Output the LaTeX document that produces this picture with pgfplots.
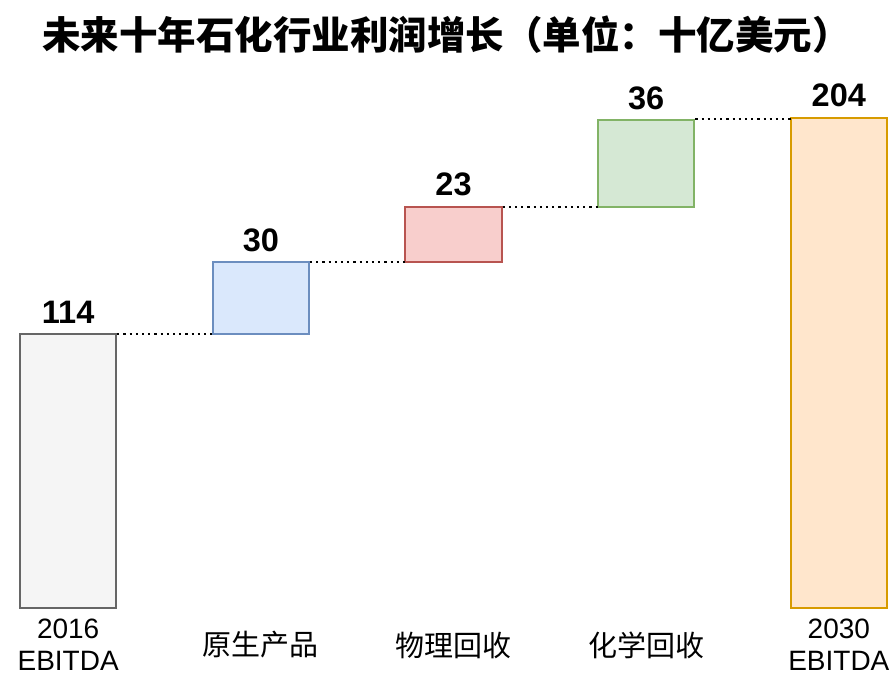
\documentclass[border=0pt]{standalone}
\usepackage{pgfplots}
\pgfplotsset{compat=1.18}
\usepackage{fontspec}
\setmainfont{Liberation Sans}
\newfontfamily\cjk{Noto Sans CJK SC}
\definecolor{gfill}{HTML}{F5F5F5}\definecolor{gdraw}{HTML}{666666}
\definecolor{bfill}{HTML}{DAE8FC}\definecolor{bdraw}{HTML}{6C8EBF}
\definecolor{rfill}{HTML}{F8CECC}\definecolor{rdraw}{HTML}{B85450}
\definecolor{vfill}{HTML}{D5E8D4}\definecolor{vdraw}{HTML}{82B366}
\definecolor{ofill}{HTML}{FFE6CC}\definecolor{odraw}{HTML}{D79B00}
\tikzset{
  wbar/.style={line width=2pt, line join=miter},
  conn/.style={black, line width=2.2pt, dash pattern=on 2.2pt off 4pt},
  val/.style={anchor=base, yshift=11pt, font=\fontsize{32.5}{36}\selectfont\bfseries},
}
\begin{document}
\begin{tikzpicture}
\useasboundingbox (-20pt,-84pt) rectangle (874pt,608pt);
\begin{axis}[
  scale only axis, width=867pt, height=490pt,
  xmin=-0.25, xmax=4.25, ymin=0, ymax=204,
  clip=false,
  axis line style={draw=none},
  tick style={draw=none},
  ytick=\empty,
  xtick={0,1,2,3,4},
  xticklabels={{2016\\EBITDA},{\cjk\fontsize{29}{32}\selectfont 原生产品},{\cjk\fontsize{29}{32}\selectfont 物理回收},{\cjk\fontsize{29}{32}\selectfont 化学回收},{2030\\EBITDA}},
  xticklabel style={anchor=center, yshift=-37pt, align=center, font=\fontsize{28}{32}\selectfont},
]
% bars (polygons in axis coordinates)
\addplot[wbar, draw=gdraw, fill=gfill] coordinates {(-0.25,0) (0.25,0) (0.25,114) (-0.25,114)} -- cycle;
\addplot[wbar, draw=bdraw, fill=bfill] coordinates {(0.75,114) (1.25,114) (1.25,144) (0.75,144)} -- cycle;
\addplot[wbar, draw=rdraw, fill=rfill] coordinates {(1.75,144) (2.25,144) (2.25,167) (1.75,167)} -- cycle;
\addplot[wbar, draw=vdraw, fill=vfill] coordinates {(2.75,167) (3.25,167) (3.25,203) (2.75,203)} -- cycle;
\addplot[wbar, draw=odraw, fill=ofill] coordinates {(3.75,0) (4.25,0) (4.25,204) (3.75,204)} -- cycle;
% connectors
\addplot[conn] coordinates {(0.255,114) (0.75,114)};
\addplot[conn] coordinates {(1.255,144) (1.75,144)};
\addplot[conn] coordinates {(2.255,167) (2.75,167)};
\addplot[conn] coordinates {(3.255,203.5) (3.75,203.5)};
% value labels
\node[val] at (axis cs:0,114) {114};
\node[val] at (axis cs:1,144) {30};
\node[val] at (axis cs:2,167) {23};
\node[val] at (axis cs:3,203) {36};
\node[val] at (axis cs:4,204) {204};
% title
\node[anchor=center, font=\cjk\bfseries\fontsize{38.5}{42}\selectfont] at ([xshift=-7pt, yshift=83pt]rel axis cs:0.5,1) {未来十年石化行业利润增长（单位：十亿美元）};
\end{axis}
\end{tikzpicture}
\end{document}
